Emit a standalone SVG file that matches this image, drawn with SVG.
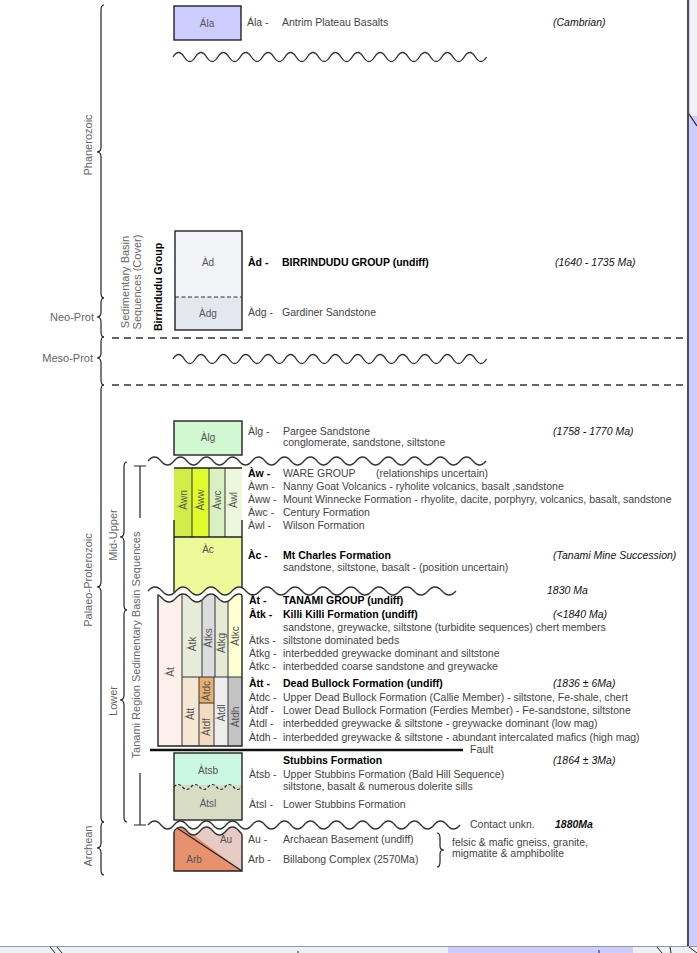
<svg xmlns="http://www.w3.org/2000/svg" width="697" height="953" viewBox="0 0 697 953">
<style>
text{font-family:"Liberation Sans",Arial,Helvetica,sans-serif;}
.t{font-size:10.5px;fill:#444;}
.b{font-size:10.5px;font-weight:bold;fill:#000;}
.i{font-size:10.5px;font-style:italic;fill:#111;}
.bl{font-size:10px;fill:#555;text-anchor:middle;}
.lf{font-size:11px;fill:#666;}
.box{stroke:#222;stroke-width:1.4;}
.col{stroke:#333;stroke-width:1;}
.wave{fill:none;stroke:#333;stroke-width:1.4;}
.brace{fill:none;stroke:#222;stroke-width:1.2;}
.dash{fill:none;stroke:#333;stroke-width:1.5;stroke-dasharray:7,5;}
</style>
<defs>
<clipPath id="acClip"><path d="M148,520 V591 q7,-8 14,0 t14,0 t14,0 t14,0 t14,0 t14,0 t14,0 t14,0 t14,0 t14,0 t14,0 t14,0 t14,0 t14,0 t14,0 t14,0 t14,0 t14,0 t14,0 t14,0 t14,0 t14,0 V520 Z"/></clipPath>
<clipPath id="tanClip"><path d="M148,770 V598 q7,-8 14,0 t14,0 t14,0 t14,0 t14,0 t14,0 t14,0 t14,0 t14,0 t14,0 t14,0 t14,0 t14,0 t14,0 t14,0 t14,0 t14,0 t14,0 t14,0 t14,0 t14,0 t14,0 V770 Z"/></clipPath>
<clipPath id="tanTop"><rect x="158" y="580" width="84" height="30"/></clipPath>
<clipPath id="archClip"><path d="M148,890 V831 q6.5,-8 13,0 t13,0 t13,0 t13,0 t13,0 t13,0 t13,0 t13,0 t13,0 t13,0 t13,0 t13,0 t13,0 t13,0 t13,0 t13,0 t13,0 t13,0 t13,0 t13,0 t13,0 t13,0 t13,0 t13,0 V890 Z"/></clipPath>
<clipPath id="archTop"><rect x="174" y="815" width="68" height="30"/></clipPath>
</defs>

<rect x="0" y="0" width="697" height="953" fill="#ffffff"/>

<!-- window frame -->
<g id="frame">
<rect x="689" y="0" width="8" height="946" fill="#ccccff"/>
<rect x="690" y="0" width="7" height="116" fill="#f3f3f7"/>
<line x1="688" y1="0" x2="688" y2="946" stroke="#222" stroke-width="1.6"/>
<line x1="689" y1="114" x2="697" y2="126" stroke="#222" stroke-width="1.2"/>
<rect x="0" y="946" width="697" height="7" fill="#eef0f5"/>
<line x1="0" y1="946.5" x2="697" y2="946.5" stroke="#999" stroke-width="1"/>
<rect x="448" y="947" width="185" height="6" fill="#ccccff"/>
<path d="M50,947 L55,953 M57,947 L62,953 M298,951 V953 M599,950 V953 M657,947 L662,953 M670,947 L671,953 M689,947 L697,953" stroke="#222" stroke-width="1" fill="none"/>
</g>

<!-- era braces and labels -->
<g id="era-braces">
<path class="brace" d="M104,5 Q101,5 101,10 L101,147 Q101,152 97,152 Q101,152 101,157 L101,293 Q101,298 104,298"/>
<path class="brace" d="M104,298 Q101,298 101,303 L101,312 Q101,317 97,317 Q101,317 101,322 L101,332 Q101,337 104,337"/>
<path class="brace" d="M104,337 Q101,337 101,342 L101,353 Q101,358 97,358 Q101,358 101,363 L101,380 Q101,385 104,385"/>
<path class="brace" d="M104,385 Q101,385 101,390 L101,582 Q101,587 97,587 Q101,587 101,592 L101,817 Q101,822 104,822"/>
<path class="brace" d="M104,822 Q101,822 101,827 L101,843 Q101,848 97,848 Q101,848 101,853 L101,870 Q101,875 104,875"/>
<path class="brace" d="M127,462 Q124,462 124,467 L124,532 Q124,537 120,537 Q124,537 124,542 L124,605 Q124,610 127,610"/>
<path class="brace" d="M127,610 Q124,610 124,615 L124,695 Q124,700 120,700 Q124,700 124,705 L124,817 Q124,822 127,822"/>
<path class="brace" d="M134,466 H146 M140,466 V518 M140,773 V825 M134,825 H146"/>
</g>
<g id="era-labels">
<text class="lf" transform="translate(92,145) rotate(-90)" text-anchor="middle">Phanerozoic</text>
<text class="lf" x="94" y="321" text-anchor="end">Neo-Prot</text>
<text class="lf" x="93" y="362" text-anchor="end">Meso-Prot</text>
<text class="lf" transform="translate(92,580) rotate(-90)" text-anchor="middle">Palaeo-Proterozoic</text>
<text class="lf" transform="translate(92,846) rotate(-90)" text-anchor="middle">Archean</text>
<text class="lf" transform="translate(117,535) rotate(-90)" text-anchor="middle">Mid-Upper</text>
<text class="lf" transform="translate(117,701) rotate(-90)" text-anchor="middle">Lower</text>
<text class="lf" transform="translate(140,645) rotate(-90)" text-anchor="middle" font-size="10.5">Tanami Region Sedimentary Basin Sequences</text>
<text class="lf" transform="translate(129,282) rotate(-90)" text-anchor="middle" font-size="10.5">Sedimentary Basin</text>
<text class="lf" transform="translate(141,282) rotate(-90)" text-anchor="middle" font-size="10.5">Sequences (Cover)</text>
<text class="b" transform="translate(162,287) rotate(-90)" text-anchor="middle">Birrindudu Group</text>
</g>

<!-- connectors: unconformities, boundaries, fault -->
<g id="connectors">
<path class="wave" d="M173,57 q5.6,-9 11.2,0 t11.2,0 t11.2,0 t11.2,0 t11.2,0 t11.2,0 t11.2,0 t11.2,0 t11.2,0 t11.2,0 t11.2,0 t11.2,0 t11.2,0 t11.2,0 t11.2,0 t11.2,0 t11.2,0 t11.2,0 t11.2,0 t11.2,0 t11.2,0 t11.2,0 t11.2,0 t11.2,0 t11.2,0 t11.2,0 t11.2,0 t11.2,0"/>
<path class="wave" d="M173,359 q5.6,-9 11.2,0 t11.2,0 t11.2,0 t11.2,0 t11.2,0 t11.2,0 t11.2,0 t11.2,0 t11.2,0 t11.2,0 t11.2,0 t11.2,0 t11.2,0 t11.2,0 t11.2,0 t11.2,0 t11.2,0 t11.2,0 t11.2,0 t11.2,0 t11.2,0 t11.2,0 t11.2,0 t11.2,0 t11.2,0 t11.2,0 t11.2,0 t11.2,0"/>
<path class="dash" d="M112,338 H686 M112,385 H686"/>
<path class="wave" d="M148,461 q6.5,-8 13,0 t13,0 t13,0 t13,0 t13,0 t13,0 t13,0 t13,0 t13,0 t13,0 t13,0 t13,0 t13,0 t13,0 t13,0 t13,0 t13,0 t13,0 t13,0 t13,0 t13,0 t13,0 t13,0 t13,0 t13,0 t13,0"/>
<line x1="150" y1="750" x2="463" y2="750" stroke="#111" stroke-width="2.5"/>
</g>

<!-- Ala -->
<g id="ala">
<rect class="box" x="174" y="6" width="67" height="34" fill="#ccccff"/>
<text class="bl" x="207" y="27" font-size="10.5">Ála</text>
<text class="t" x="247" y="26">Ála -</text>
<text class="t" x="282" y="26">Antrim Plateau Basalts</text>
<text class="i" x="553" y="26">(Cambrian)</text>
</g>

<!-- Birrindudu -->
<g id="birrindudu">
<rect x="175" y="231" width="67" height="66" fill="#f3f4f8"/>
<rect x="175" y="297" width="67" height="33" fill="#e5e7ee"/>
<rect class="box" x="175" y="231" width="67" height="99" fill="none"/>
<line x1="175" y1="297" x2="242" y2="297" stroke="#333" stroke-width="1.2" stroke-dasharray="4,2.5"/>
<text class="bl" x="208" y="266" font-size="10.5">Àd</text>
<text class="bl" x="208" y="317" font-size="10.5">Àdg</text>
<text class="b" x="248" y="266">Àd -</text>
<text class="b" x="282" y="266">BIRRINDUDU GROUP (undiff)</text>
<text class="i" x="555" y="266">(1640 - 1735 Ma)</text>
<text class="t" x="248" y="316">Àdg -</text>
<text class="t" x="282" y="316">Gardiner Sandstone</text>
</g>

<!-- Alg -->
<g id="alg">
<rect class="box" x="174" y="421" width="68" height="34" fill="#d2f8d2"/>
<text class="bl" x="208" y="441" font-size="10.5">Àlg</text>
<text class="t" x="248" y="435">Àlg -</text>
<text class="t" x="283" y="435">Pargee Sandstone</text>
<text class="t" x="283" y="446">conglomerate, sandstone, siltstone</text>
<text class="i" x="553" y="435">(1758 - 1770 Ma)</text>
</g>

<!-- Ware group -->
<g id="ware">
<rect x="174" y="468" width="18" height="69" fill="#d2ec48"/>
<rect x="192" y="468" width="17" height="69" fill="#e2fb2c"/>
<rect x="209" y="468" width="16" height="69" fill="#d9f0c2"/>
<rect x="225" y="468" width="17" height="69" fill="#ecf7dc"/>
<path class="col" d="M192,468 V537 M209,468 V537 M225,468 V537" fill="none"/>
<text class="bl" transform="translate(183,500) rotate(-90)" dy="3.5">Àwn</text>
<text class="bl" transform="translate(200.5,500) rotate(-90)" dy="3.5">Àww</text>
<text class="bl" transform="translate(217,500) rotate(-90)" dy="3.5">Àwc</text>
<text class="bl" transform="translate(233.5,500) rotate(-90)" dy="3.5">Àwl</text>
<text class="b" x="248" y="477" font-size="11">Àw -</text>
<text class="t" x="283" y="477" font-size="12" fill="#000">WARE GROUP</text>
<text class="t" x="376" y="477" font-size="10">(relationships uncertain)</text>
<text class="t" x="248" y="490">Àwn -</text>
<text class="t" x="283" y="490">Nanny Goat Volcanics - ryholite volcanics, basalt ,sandstone</text>
<text class="t" x="248" y="503">Àww -</text>
<text class="t" x="283" y="503">Mount Winnecke Formation - rhyolite, dacite, porphyry, volcanics, basalt, sandstone</text>
<text class="t" x="248" y="516">Àwc -</text>
<text class="t" x="283" y="516">Century Formation</text>
<text class="t" x="248" y="529">Àwl -</text>
<text class="t" x="283" y="529">Wilson Formation</text>
</g>

<!-- Mt Charles -->
<g id="mt-charles">
<g clip-path="url(#acClip)">
<rect x="174" y="537" width="68" height="62" fill="#eefa99"/>
<path class="box" d="M174,468 V600 M242,468 V600" fill="none"/>
</g>
<path class="box" d="M174,468 H242 M174,537 H242" fill="none"/>
<text class="bl" x="208" y="553" font-size="10.5">Àc</text>
<text class="b" x="248" y="559">Àc -</text>
<text class="b" x="283" y="559">Mt Charles Formation</text>
<text class="t" x="283" y="571">sandstone, siltstone, basalt - (position uncertain)</text>
<text class="i" x="553" y="559">(Tanami Mine Succession)</text>
<path class="wave" d="M148,591 q7,-8 14,0 t14,0 t14,0 t14,0 t14,0 t14,0 t14,0 t14,0 t14,0 t14,0 t14,0 t14,0 t14,0 t14,0 t14,0 t14,0 t14,0 t14,0 t14,0 t14,0 t14,0 t14,0"/>
<text class="i" x="547" y="594">1830 Ma</text>
</g>

<!-- Tanami group -->
<g id="tanami">
<g clip-path="url(#tanClip)">
<rect x="158" y="585" width="24" height="161" fill="#fdf0ea"/>
<rect x="182" y="585" width="20" height="92" fill="#e7ebda"/>
<rect x="202" y="585" width="13" height="92" fill="#dcdcdc"/>
<rect x="215" y="585" width="13" height="92" fill="#e5e9d6"/>
<rect x="228" y="585" width="14" height="92" fill="#ffffd2"/>
<rect x="182" y="677" width="17" height="69" fill="#f5e7d4"/>
<rect x="199" y="677" width="15" height="26" fill="#e8b070"/>
<rect x="199" y="703" width="15" height="43" fill="#f1dcc2"/>
<rect x="214" y="677" width="14" height="69" fill="#eeeeee"/>
<rect x="228" y="677" width="14" height="69" fill="#c4c4c4"/>
<path class="col" d="M182,585 V746 M202,585 V677 M215,585 V677 M228,585 V746 M199,677 V746 M214,677 V746 M182,677 H242 M199,703 H214" fill="none"/>
<path class="box" d="M158,585 V746 H242 V585" fill="none"/>
</g>
<g clip-path="url(#tanTop)"><path class="wave" transform="translate(0,7)" d="M148,591 q7,-8 14,0 t14,0 t14,0 t14,0 t14,0 t14,0 t14,0 t14,0 t14,0 t14,0 t14,0 t14,0"/></g>
<text class="bl" transform="translate(170,672) rotate(-90)" dy="3.5">Àt</text>
<text class="bl" transform="translate(192,644) rotate(-90)" dy="3.5">Àtk</text>
<text class="bl" transform="translate(208.5,638) rotate(-90)" dy="3.5">Àtks</text>
<text class="bl" transform="translate(221.5,643) rotate(-90)" dy="3.5">Àtkg</text>
<text class="bl" transform="translate(235,636) rotate(-90)" dy="3.5">Àtkc</text>
<text class="bl" transform="translate(190.5,714) rotate(-90)" dy="3.5">Àtt</text>
<text class="bl" transform="translate(206.5,691) rotate(-90)" dy="3.5">Àtdc</text>
<text class="bl" transform="translate(206.5,727) rotate(-90)" dy="3.5">Àtdf</text>
<text class="bl" transform="translate(221,713) rotate(-90)" dy="3.5">Àtdl</text>
<text class="bl" transform="translate(235,717) rotate(-90)" dy="3.5">Àtdh</text>
<text class="b" x="249" y="604">Àt -</text>
<text class="b" x="283" y="604">TANAMI GROUP (undiff)</text>
<text class="b" x="249" y="618">Àtk -</text>
<text class="b" x="283" y="618">Killi Killi Formation (undiff)</text>
<text class="i" x="553" y="618">(&lt;1840 Ma)</text>
<text class="t" x="283" y="631">sandstone, greywacke, siltstone (turbidite sequences) chert members</text>
<text class="t" x="249" y="644">Àtks -</text>
<text class="t" x="283" y="644">siltstone dominated beds</text>
<text class="t" x="249" y="657">Àtkg -</text>
<text class="t" x="283" y="657">interbedded greywacke dominant and siltstone</text>
<text class="t" x="249" y="670">Àtkc -</text>
<text class="t" x="283" y="670">interbedded coarse sandstone and greywacke</text>
</g>

<!-- Dead Bullock -->
<g id="dead-bullock">
<text class="b" x="249" y="687">Àtt -</text>
<text class="b" x="283" y="687">Dead Bullock Formation (undiff)</text>
<text class="i" x="553" y="687">(1836 ± 6Ma)</text>
<text class="t" x="249" y="701">Àtdc -</text>
<text class="t" x="283" y="701">Upper Dead Bullock Formation (Callie Member) - siltstone, Fe-shale, chert</text>
<text class="t" x="249" y="714">Àtdf -</text>
<text class="t" x="283" y="714">Lower Dead Bullock Formation (Ferdies Member) - Fe-sandstone, siltstone</text>
<text class="t" x="249" y="727">Àtdl -</text>
<text class="t" x="283" y="727">interbedded greywacke &amp; siltstone - greywacke dominant (low mag)</text>
<text class="t" x="249" y="741">Àtdh -</text>
<text class="t" x="283" y="741">interbedded greywacke &amp; siltstone - abundant intercalated mafics (high mag)</text>
<text class="t" x="470" y="753">Fault</text>
</g>

<!-- Stubbins -->
<g id="stubbins">
<rect x="174" y="753" width="68" height="34" fill="#c9f7e2"/>
<rect x="174" y="785" width="68" height="35" fill="#d8dcc5"/>
<path d="M174,787 q4.25,-5 8.5,0 t8.5,0 t8.5,0 t8.5,0 t8.5,0 t8.5,0 t8.5,0 t8.5,0" fill="#d8dcc5" stroke="none"/>
<path d="M174,787 q4.25,-5 8.5,0 t8.5,0 t8.5,0 t8.5,0 t8.5,0 t8.5,0 t8.5,0 t8.5,0" fill="none" stroke="#333" stroke-width="1.2" stroke-dasharray="3,2"/>
<rect class="box" x="174" y="753" width="68" height="67" fill="none"/>
<text class="bl" x="208" y="774" font-size="10.5">Àtsb</text>
<text class="bl" x="208" y="807" font-size="10.5">Àtsl</text>
<text class="b" x="283" y="764">Stubbins Formation</text>
<text class="i" x="553" y="764">(1864 ± 3Ma)</text>
<text class="t" x="249" y="778">Àtsb -</text>
<text class="t" x="283" y="778">Upper Stubbins Formation (Bald Hill Sequence)</text>
<text class="t" x="283" y="790">siltstone, basalt &amp; numerous dolerite sills</text>
<text class="t" x="249" y="808">Àtsl -</text>
<text class="t" x="283" y="808">Lower Stubbins Formation</text>
</g>

<!-- Archaean -->
<g id="archaean">
<path class="wave" d="M148,825 q6.5,-8 13,0 t13,0 t13,0 t13,0 t13,0 t13,0 t13,0 t13,0 t13,0 t13,0 t13,0 t13,0 t13,0 t13,0 t13,0 t13,0 t13,0 t13,0 t13,0 t13,0 t13,0 t13,0 t13,0 t13,0"/>
<g clip-path="url(#archClip)">
<polygon points="174,820 242,820 242,871" fill="#e6cbc4"/>
<polygon points="174,820 174,871 242,871" fill="#e8916f"/>
<line x1="174" y1="826" x2="242" y2="871" stroke="#222" stroke-width="1.2"/>
<path class="box" d="M174,815 V871 H242 V815" fill="none"/>
</g>
<g clip-path="url(#archTop)"><path class="wave" transform="translate(0,6)" d="M148,825 q6.5,-8 13,0 t13,0 t13,0 t13,0 t13,0 t13,0 t13,0 t13,0"/></g>
<text class="bl" x="226" y="843" font-size="10.5">Au</text>
<text class="bl" x="194" y="863" font-size="10.5">Arb</text>
<text class="t" x="470" y="828">Contact unkn.</text>
<text class="i" x="555" y="828" font-weight="bold">1880Ma</text>
<text class="t" x="248" y="843">Au -</text>
<text class="t" x="283" y="843">Archaean Basement (undiff)</text>
<text class="t" x="248" y="863">Arb -</text>
<text class="t" x="283" y="863">Billabong Complex (2570Ma)</text>
<path class="brace" d="M437,833 Q440,833 440,838 L440,846 Q440,850 444,850 Q440,850 440,854 L440,862 Q440,867 437,867"/>
<text class="t" x="452" y="846">felsic &amp; mafic gneiss, granite,</text>
<text class="t" x="452" y="857">migmatite &amp; amphibolite</text>
</g>
</svg>
